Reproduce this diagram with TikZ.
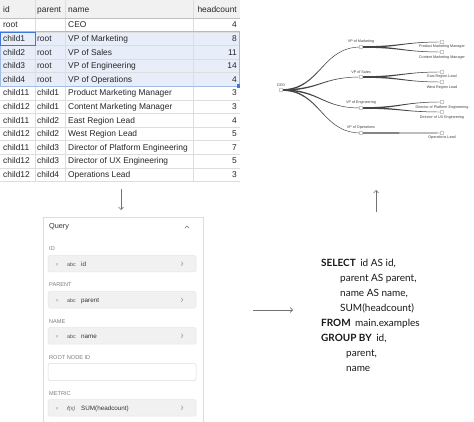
\documentclass[tikz,border=0pt]{standalone}
\usepackage{fontspec}
\setmainfont{Liberation Sans}
\newfontfamily\sqlfont{Lato}
\usetikzlibrary{arrows.meta,calc}
\definecolor{gridc}{HTML}{DDDDDD}
\definecolor{hdrc}{HTML}{F1F1F1}
\definecolor{selfill}{HTML}{E8EEF9}
\definecolor{selline}{HTML}{A3BCE6}
\definecolor{selblue}{HTML}{3F78D8}
\definecolor{panelc}{HTML}{DCDCDC}
\definecolor{fieldc}{HTML}{F1F1F1}
\definecolor{fieldb}{HTML}{E6E6E6}
\definecolor{qgray}{HTML}{7A7A7A}
\definecolor{linkc}{HTML}{444444}
\tikzset{
  cell/.style={inner sep=0pt, font=\fontsize{8.4}{10}\selectfont, text=black!85},
  qlabel/.style={inner sep=0pt, anchor=base west, font=\fontsize{5.6}{7}\selectfont, text=qgray},
  qtext/.style={inner sep=0pt, anchor=base west, font=\fontsize{6.3}{8}\selectfont, text=black!80},
  qsmall/.style={inner sep=0pt, anchor=base west, font=\fontsize{5.3}{7}\selectfont, text=black!70},
  fieldbox/.style={draw=fieldb, fill=fieldc, rounded corners=1.5pt, line width=0.5pt},
  emptybox/.style={draw=panelc, fill=white, rounded corners=1.5pt, line width=0.5pt},
  arr/.style={draw=black!55, line width=0.6pt, -{Straight Barb[length=2.5pt,width=5pt]}},
  tnode/.style={circle, draw=black!45, fill=white, line width=0.35pt, minimum size=4pt, inner sep=0pt},
  tlabel/.style={inner sep=0pt, font=\fontsize{3.7}{4.5}\selectfont, text=black!75},
  sql/.style={inner sep=0pt, anchor=base west, font=\sqlfont\fontsize{10}{12}\selectfont, text=black!90},
}
\newcommand\treelink[2]{%
  \fill[linkc] let \p1=(#1), \p2=(#2) in
    (\x1,\y1+0.75pt) .. controls ({(\x1+\x2)/2},\y1+0.75pt) and ({(\x1+\x2)/2},\y2+0.22pt) .. (\x2,\y2+0.22pt)
    -- (\x2,\y2-0.22pt) .. controls ({(\x1+\x2)/2},\y2-0.22pt) and ({(\x1+\x2)/2},\y1-0.75pt) .. (\x1,\y1-0.75pt) -- cycle;}
\newcommand\chev[2]{\draw[black!40, line width=0.5pt] (#1-0.9,#2-2) -- (#1+0.9,#2) -- (#1-0.9,#2+2);}
\begin{document}
\begin{tikzpicture}[x=1pt,y=-1pt]
\useasboundingbox (0,0) rectangle (474,422);
\fill[white] (0,0) rectangle (474,422);
% ---------------- table ----------------
\fill[hdrc] (0,0) rectangle (240,18.2);
\fill[selfill] (0,31.8) rectangle (240,86.2);
\foreach \k in {0,...,12} {
  \draw[gridc, line width=0.4pt] (0,{18.2+13.6*\k}) -- (240,{18.2+13.6*\k});
}
\foreach \xx in {35,65,193} {
  \draw[gridc, line width=0.4pt] (\xx,0) -- (\xx,181.4);
}
\draw[black!25, line width=0.6pt] (0,18.2) -- (240,18.2);
\draw[selline, line width=0.6pt] (0,31.8) rectangle (239,86.2);
\draw[selblue, line width=0.9pt] (0.5,32.2) rectangle (35,45.4);
\fill[selblue] (236.5,84.4) rectangle (240,88);
% header
\node[cell, anchor=base west] (h1) at (3,12.5) {id};
\node[cell, anchor=base west] (h2) at (37,12.5) {parent};
\node[cell, anchor=base west] (h3) at (68,12.5) {name};
\node[cell, anchor=base east] (h4) at (237,12.5) {headcount};
\foreach \a/\b/\c/\d [count=\n from 0] in {root//CEO/4, child1/root/VP of Marketing/8, child2/root/VP of Sales/11, child3/root/VP of Engineering/14, child4/root/VP of Operations/4, child11/child1/Product Marketing Manager/3, child12/child1/Content Marketing Manager/3, child11/child2/East Region Lead/4, child12/child2/West Region Lead/5, child11/child3/Director of Platform Engineering/7, child12/child3/Director of UX Engineering/5, child12/child4/Operations Lead/3} {
  \node[cell, anchor=base west] (id\n) at (3,{25+13.6*\n+3}) {\a};
  \node[cell, anchor=base west] (pa\n) at (37,{25+13.6*\n+3}) {\b};
  \node[cell, anchor=base west] (nm\n) at (68,{25+13.6*\n+3}) {\c};
  \node[cell, anchor=base east] (hc\n) at (237,{25+13.6*\n+3}) {\d};
}
% ---------------- arrows ----------------
\coordinate (d1) at (121,189);
\coordinate (d2) at (121,210);
\draw[arr] (d1) -- (d2);
\coordinate (u1) at (376,212);
\coordinate (u2) at (376,190);
\draw[arr] (u1) -- (u2);
\coordinate (r1) at (253,310);
\coordinate (r2) at (293,310);
\draw[arr] (r1) -- (r2);
% ---------------- query panel ----------------
\draw[panelc, fill=white, line width=0.6pt] (43.5,217) rectangle (203,423);
\node[inner sep=0pt, anchor=base west, font=\fontsize{7.3}{9}\selectfont, text=black!80] (qtitle) at (49,228.6) {Query};
\draw[black!55, line width=0.55pt] (184.8,228.2) -- (187,226) -- (189.2,228.2);
% ID
\node[qlabel] (lid) at (49,251) {ID};
\draw[fieldbox] (48,255.5) rectangle (196,272);
\node[qsmall, text=black!40] (xid) at (55.5,266) {×};
\node[qsmall] (aid) at (67,266) {abc};
\node[qtext] (vid) at (81,266) {id};
\chev{182}{263.7}
% PARENT
\node[qlabel] (lpa) at (49,287) {PARENT};
\draw[fieldbox] (48,291.5) rectangle (196,308);
\node[qsmall, text=black!40] (xpa) at (55.5,302) {×};
\node[qsmall] (apa) at (67,302) {abc};
\node[qtext] (vpa) at (81,302) {parent};
\chev{182}{299.7}
% NAME
\node[qlabel] (lnm) at (49,323) {NAME};
\draw[fieldbox] (48,327.5) rectangle (196,344);
\node[qsmall, text=black!40] (xnm) at (55.5,338) {×};
\node[qsmall] (anm) at (67,338) {abc};
\node[qtext] (vnm) at (81,338) {name};
\chev{182}{335.7}
% ROOT NODE ID
\node[qlabel] (lrt) at (49,359.5) {ROOT NODE ID};
\draw[emptybox] (48,363.5) rectangle (196,380.5);
% METRIC
\node[qlabel] (lmt) at (49,395) {METRIC};
\draw[fieldbox] (48,399.5) rectangle (196,416);
\node[qsmall, text=black!40] (xmt) at (55.5,410) {×};
\node[qsmall, font=\itshape\fontsize{5.5}{7}\selectfont] (amt) at (67,410) {f(x)};
\node[qtext] (vmt) at (81,410) {SUM(headcount)};
\chev{182}{407.7}
% ---------------- SQL ----------------
\node[sql] (s1) at (321,266.5) {\textbf{SELECT}\hspace{0.45em}id AS id,};
\node[sql] (s2) at (340,281) {parent AS parent,};
\node[sql] (s3) at (340,296) {name AS name,};
\node[sql] (s4) at (340,311) {SUM(headcount)};
\node[sql] (s5) at (321,326) {\textbf{FROM}\hspace{0.45em}main.examples};
\node[sql] (s6) at (321,341) {\textbf{GROUP BY}\hspace{0.45em}id,};
\node[sql] (s7) at (346,356) {parent,};
\node[sql] (s8) at (346,371) {name};
% ---------------- tree ----------------
\coordinate (ceo) at (281,90);
\coordinate (vm) at (361,47);
\coordinate (vs) at (361,77);
\coordinate (ve) at (361,108);
\coordinate (vo) at (361,133);
\coordinate (l1) at (442,42);
\coordinate (l2) at (442,52);
\coordinate (l3) at (442,72);
\coordinate (l4) at (442,82);
\coordinate (l5) at (442,102);
\coordinate (l6) at (442,112);
\coordinate (l7) at (442,133);
\treelink{ceo}{vm}
\treelink{ceo}{vs}
\treelink{ceo}{ve}
\treelink{ceo}{vo}
\treelink{vm}{l1}
\treelink{vm}{l2}
\treelink{vs}{l3}
\treelink{vs}{l4}
\treelink{ve}{l5}
\treelink{ve}{l6}
\treelink{vo}{l7}
\foreach \c in {ceo,vm,vs,ve,vo,l1,l2,l3,l4,l5,l6,l7} {
  \node[tnode] (n\c) at (\c) {};
}
\node[tlabel] (tceo) at (281,85) {CEO};
\node[tlabel] (tvm) at (361,42) {VP of Marketing};
\node[tlabel] (tvs) at (361,72) {VP of Sales};
\node[tlabel] (tve) at (361,103) {VP of Engineering};
\node[tlabel] (tvo) at (361,128) {VP of Operations};
\node[tlabel] (tl1) at (442,47) {Product Marketing Manager};
\node[tlabel] (tl2) at (442,58) {Content Marketing Manager};
\node[tlabel] (tl3) at (442,77) {East Region Lead};
\node[tlabel] (tl4) at (442,88) {West Region Lead};
\node[tlabel] (tl5) at (442,108) {Director of Platform Engineering};
\node[tlabel] (tl6) at (442,118) {Director of UX Engineering};
\node[tlabel] (tl7) at (442,138) {Operations Lead};
\end{tikzpicture}
\end{document}
